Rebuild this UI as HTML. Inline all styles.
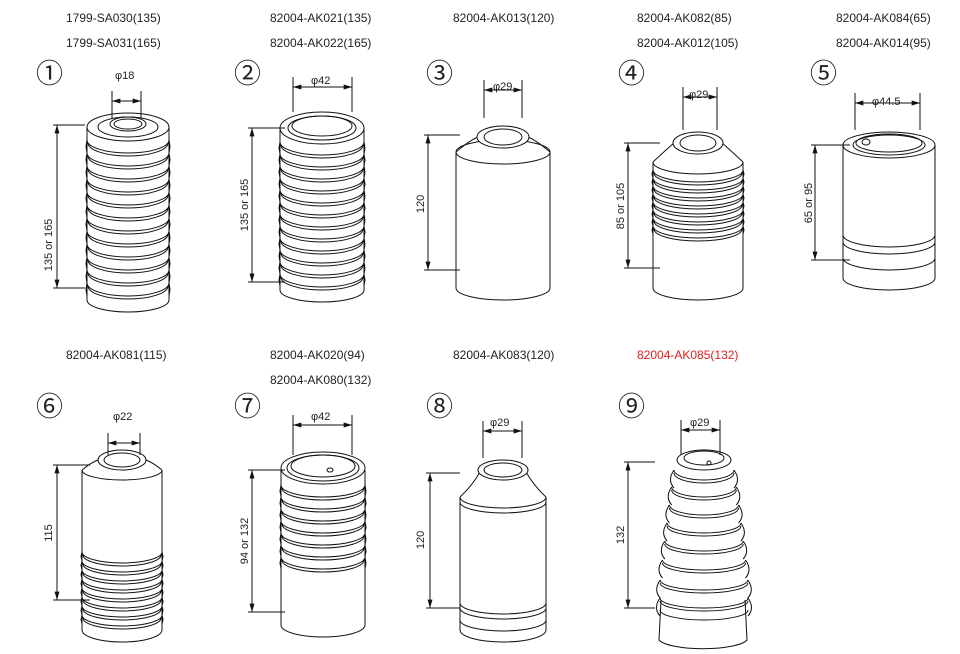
<!DOCTYPE html>
<html><head><meta charset="utf-8"><style>
html,body{margin:0;padding:0;background:#fff}
svg{display:block}
text{font-family:"Liberation Sans","Noto Sans CJK JP",sans-serif;fill:#222}
.l{font-size:12px}
.c{font-size:27px}
.d{font-size:11px}
</style></head><body>
<svg id="s" width="960" height="654" viewBox="0 0 960 654" xmlns="http://www.w3.org/2000/svg">
<defs>
<marker id="a" viewBox="0 0 10 6" refX="10" refY="3" markerWidth="9" markerHeight="5" orient="auto-start-reverse" markerUnits="userSpaceOnUse"><path d="M0 0L10 3L0 6z" fill="#111"/></marker>
</defs>
<rect width="960" height="654" fill="#fff"/>
<g id="g" fill="none" stroke="#111" stroke-width="1"></g>
<!-- labels -->
<text class="l" x="66" y="22">1799-SA030(135)</text>
<text class="l" x="66" y="47">1799-SA031(165)</text>
<text class="l" x="270" y="22">82004-AK021(135)</text>
<text class="l" x="270" y="47">82004-AK022(165)</text>
<text class="l" x="453" y="22">82004-AK013(120)</text>
<text class="l" x="637" y="22">82004-AK082(85)</text>
<text class="l" x="637" y="47">82004-AK012(105)</text>
<text class="l" x="836" y="22">82004-AK084(65)</text>
<text class="l" x="836" y="47">82004-AK014(95)</text>
<text class="l" x="66" y="359">82004-AK081(115)</text>
<text class="l" x="270" y="359">82004-AK020(94)</text>
<text class="l" x="270" y="384">82004-AK080(132)</text>
<text class="l" x="453" y="359">82004-AK083(120)</text>
<text class="l" x="637" y="359" style="fill:#e02020">82004-AK085(132)</text>
<text class="c" x="36" y="83">①</text>
<text class="c" x="234" y="83">②</text>
<text class="c" x="426" y="83">③</text>
<text class="c" x="618" y="83">④</text>
<text class="c" x="810" y="83">⑤</text>
<text class="c" x="36" y="416">⑥</text>
<text class="c" x="234" y="416">⑦</text>
<text class="c" x="426" y="416">⑧</text>
<text class="c" x="618" y="416">⑨</text>
<text class="d" x="115" y="79">φ18</text>
<text class="d" x="311" y="84">φ42</text>
<text class="d" x="493" y="90">φ29</text>
<text class="d" x="689" y="98">φ29</text>
<text class="d" x="872" y="105">φ44.5</text>
<text class="d" x="113" y="420">φ22</text>
<text class="d" x="311" y="420">φ42</text>
<text class="d" x="490" y="426">φ29</text>
<text class="d" x="690" y="426">φ29</text>
<text class="d" transform="translate(52,245) rotate(-90)" text-anchor="middle">135 or 165</text>
<text class="d" transform="translate(248,205) rotate(-90)" text-anchor="middle">135 or 165</text>
<text class="d" transform="translate(424,204) rotate(-90)" text-anchor="middle">120</text>
<text class="d" transform="translate(624,206) rotate(-90)" text-anchor="middle">85 or 105</text>
<text class="d" transform="translate(812,203) rotate(-90)" text-anchor="middle">65 or 95</text>
<text class="d" transform="translate(52,533) rotate(-90)" text-anchor="middle">115</text>
<text class="d" transform="translate(248,541) rotate(-90)" text-anchor="middle">94 or 132</text>
<text class="d" transform="translate(424,540) rotate(-90)" text-anchor="middle">120</text>
<text class="d" transform="translate(624,535) rotate(-90)" text-anchor="middle">132</text>
</svg>
<script>
var g=document.getElementById('g'),NS='http://www.w3.org/2000/svg';
function P(d,o){var e=document.createElementNS(NS,'path');e.setAttribute('d',d);if(o)for(var k in o)e.setAttribute(k,o[k]);g.appendChild(e);return e;}
function E(cx,cy,rx,ry,f){P('M'+(cx-rx)+' '+cy+'A'+rx+' '+ry+' 0 1 0 '+(cx+rx)+' '+cy+'A'+rx+' '+ry+' 0 1 0 '+(cx-rx)+' '+cy,f?{fill:'#fff'}:null);}
function L(cx,cy,rx,ry){P('M'+(cx-rx)+' '+cy+'A'+rx+' '+ry+' 0 0 0 '+(cx+rx)+' '+cy);}
function body(cx,top,bot,rx,ry){P('M'+(cx-rx)+' '+top+'L'+(cx-rx)+' '+bot+'A'+rx+' '+ry+' 0 0 0 '+(cx+rx)+' '+bot+'L'+(cx+rx)+' '+top,{fill:'#fff'});}
function dimH(x1,x2,y,t){P('M'+x1+' '+(y-10)+'V'+t+'M'+x2+' '+(y-10)+'V'+t);P('M'+x1+' '+y+'H'+x2,{'marker-start':'url(#a)','marker-end':'url(#a)'});}
function dimV(x,y1,y2,ex){P('M'+(x-4)+' '+y1+'H'+ex+'M'+(x-4)+' '+y2+'H'+ex);P('M'+x+' '+y1+'V'+y2,{'marker-start':'url(#a)','marker-end':'url(#a)'});}
function rings(cx,rx,ry,y0,y1,st){for(var y=y0;y<=y1;y+=st){L(cx,y,rx,ry);L(cx,y+3,rx-1,ry);P('M'+(cx-rx)+' '+y+'l-1 '+(st/2)+'l1 '+(st/2));P('M'+(cx+rx)+' '+y+'l1 '+(st/2)+'l-1 '+(st/2));}}
// 1
body(128,127,300,41,12);rings(128,41,13,140,285,13);E(128,127,41,14,1);E(128,127,30,10);E(128,124,18,7);E(128,124,14,5);
dimH(112,141,101,118);dimV(57,125,288,85);
// 2
body(322,128,290,42,12);rings(322,42,13,142,278,12);E(322,128,42,16,1);E(322,128,34,12);E(322,126,30,10);
dimH(293,352,87,112);dimV(252,128,282,285);
// 3
body(503,152,288,47,12);P('M456 152Q470 140 480 136M550 152Q536 140 526 136');E(503,152,47,12);E(503,137,26,11,1);E(503,137,19,8);
dimH(484,522,90,118);dimV(428,135,270,460);
// 4
body(698,162,288,45,12);rings(698,45,12,170,228,8);L(698,162,45,12);P('M653 162Q668 148 674 143M743 162Q728 148 722 143');E(698,143,25,11,1);E(698,143,18,8);
dimH(683,717,97,130);dimV(628,143,268,660);
// 5
body(889,145,278,46,12);L(889,235,46,12);L(889,242,46,12);L(889,258,46,12);E(889,145,46,13,1);E(889,145,36,10);E(889,143,33,9);E(866,142,4,3);
dimH(855,920,103,130);dimV(815,145,260,850);
// 6
body(122,470,630,40,12);rings(122,40,11,552,615,9);P('M82 470Q92 462 98 460M162 470Q152 462 146 460');L(122,470,40,10);E(122,460,24,10,1);E(122,460,18,7);
dimH(108,140,443,455);dimV(57,465,600,90);
// 7
body(323,470,625,42,12);rings(323,42,12,485,560,12);E(323,468,42,16,1);E(323,468,36,13);E(323,466,32,11);E(330,470,3,2);
dimH(293,352,425,455);dimV(252,470,612,285);
// 8
body(503,497,630,43,12);L(503,497,43,11);L(503,502,43,11);L(503,603,43,11);L(503,608,43,11);L(503,620,43,11);P('M460 497Q472 486 480 472M546 497Q534 486 526 472');E(503,470,25,10,1);E(503,470,19,7);
dimH(483,522,431,458);dimV(430,473,608,460);
// 9
P('M661 600L659 640A45 11 0 0 0 747 640L745 600',{fill:'#fff'});
(function(){var ys=[470,487,505,523,541,560,580,598];for(var i=0;i<ys.length;i++){var r=33+i*1.7;var rx=Math.min(30+i*2.3,44);P('M'+(704-rx)+' '+ys[i]+'Q'+(704-rx-7)+' '+(ys[i]+10)+' '+(704-rx)+' '+(ys[i]+18)+'M'+(704+rx)+' '+ys[i]+'Q'+(704+rx+7)+' '+(ys[i]+10)+' '+(704+rx)+' '+(ys[i]+18));L(704,ys[i],rx,10);L(704,ys[i]+3,rx,10);}})();
L(704,610,44,10);E(704,460,27,10,1);E(704,458,20,7);E(709,463,2,2);
dimH(681,720,430,455);dimV(628,462,608,655);
</script>
</body></html>
